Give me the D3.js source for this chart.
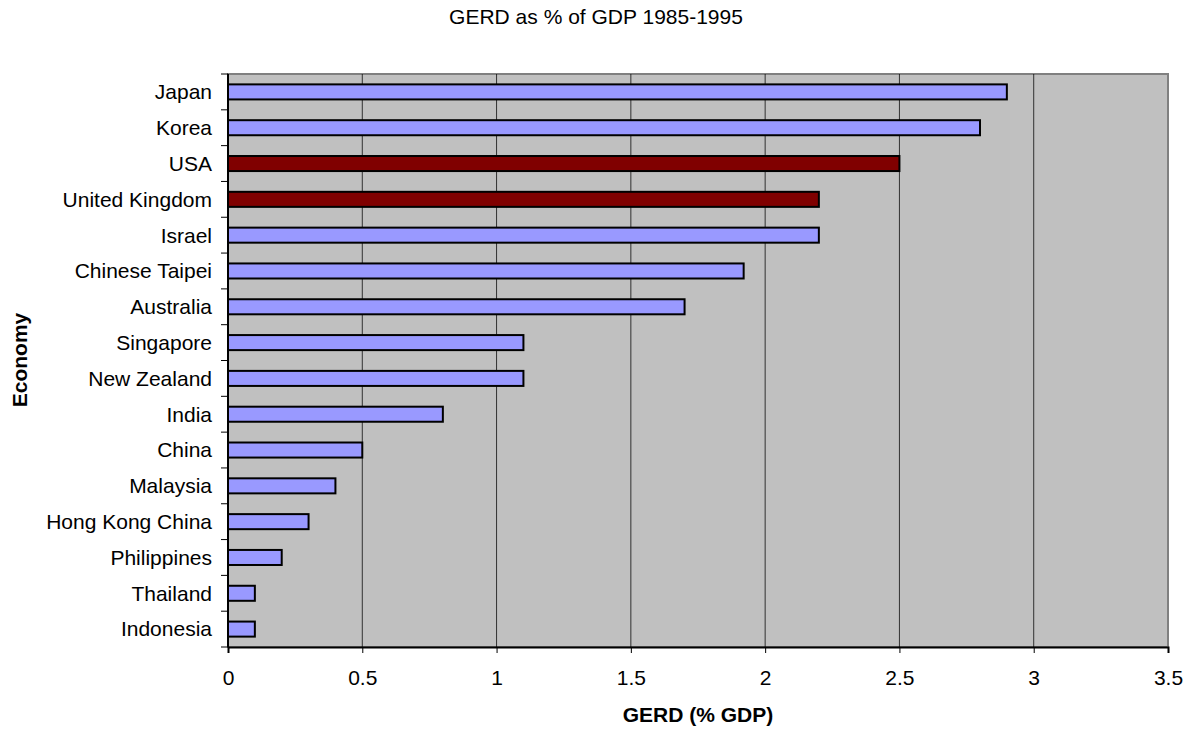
<!DOCTYPE html>
<html>
<head>
<meta charset="utf-8">
<script src="https://cdn.jsdelivr.net/npm/d3@7"></script>
<style>
  body { margin: 0; background: #fff; }
  text { font-family: Arial, "Liberation Sans", sans-serif; }
</style>
</head>
<body>
<script>
// GERD as % of GDP
var economies = ["Japan", "Korea", "USA", "United Kingdom", "Israel", "Chinese Taipei",
  "Australia", "Singapore", "New Zealand", "India", "China", "Malaysia",
  "Hong Kong China", "Philippines", "Thailand", "Indonesia"];
var gerd = [2.9, 2.8, 2.5, 2.2, 2.2, 1.92, 1.7, 1.1, 1.1, 0.8, 0.5, 0.4, 0.3, 0.2, 0.1, 0.1];
var highlighted = ["USA", "United Kingdom"];
var xTicks = [0, 0.5, 1, 1.5, 2, 2.5, 3, 3.5];

var width = 1201, height = 731;
var plot = { left: 228, top: 74, right: 1168, bottom: 647 };
var fontSize = 21;

var data = economies.map(function(d, i) { return { name: d, value: gerd[i] }; });

var svg = d3.select('body').append('svg')
  .attr('width', width)
  .attr('height', height);

var xScale = d3.scaleLinear()
  .domain([0, 3.5])
  .range([plot.left, plot.right]);

var yScale = d3.scaleBand()
  .domain(economies)
  .range([plot.top, plot.bottom])
  .paddingInner(0.58)
  .paddingOuter(0.29);

var yOuter = d3.scaleBand()
  .domain(economies)
  .range([plot.top, plot.bottom]);

// plot background
svg.append('rect')
  .attr('x', plot.left)
  .attr('y', plot.top)
  .attr('width', plot.right - plot.left)
  .attr('height', plot.bottom - plot.top)
  .attr('fill', '#c0c0c0')
  .attr('stroke', '#808080')
  .attr('stroke-width', 2);

// gridlines
svg.append('g').selectAll('line')
  .data(xTicks.slice(1, -1))
  .enter().append('line')
  .attr('x1', function(d) { return xScale(d); })
  .attr('x2', function(d) { return xScale(d); })
  .attr('y1', plot.top)
  .attr('y2', plot.bottom)
  .attr('stroke', '#000')
  .attr('stroke-opacity', 0.75)
  .attr('stroke-width', 1);

// bars
svg.append('g').selectAll('rect')
  .data(data)
  .enter().append('rect')
  .attr('x', xScale(0))
  .attr('y', function(d) { return yScale(d.name); })
  .attr('width', function(d) { return xScale(d.value) - xScale(0); })
  .attr('height', yScale.bandwidth())
  .attr('fill', function(d) { return highlighted.indexOf(d.name) >= 0 ? '#800000' : '#9999ff'; })
  .attr('stroke', '#000')
  .attr('stroke-width', 2);

// x axis
var xAxis = d3.axisBottom(xScale).tickValues(xTicks).tickSize(6)
  .tickFormat(function(d) { return d; });
var xAxisNodes = svg.append('g')
  .attr('transform', 'translate(0,' + plot.bottom + ')')
  .call(xAxis);
xAxisNodes.selectAll('.tick text')
  .attr('y', 38)
  .attr('dy', null)
  .attr('font-size', fontSize)
  .attr('fill', '#000')
  .style('font-family', 'Arial, "Liberation Sans", sans-serif');
styleAxisNodes(xAxisNodes);

// y axis: ticks sit between categories
var yAxisNodes = svg.append('g')
  .attr('transform', 'translate(' + plot.left + ',0)');
yAxisNodes.append('line')
  .attr('x1', 0).attr('x2', 0)
  .attr('y1', plot.top).attr('y2', plot.bottom)
  .attr('stroke', '#000').attr('stroke-width', 2);
yAxisNodes.selectAll('.cat-tick')
  .data(economies.concat(['end']))
  .enter().append('line')
  .attr('class', 'cat-tick')
  .attr('x1', -7).attr('x2', 0)
  .attr('y1', function(d, i) { return plot.top + i * yOuter.step(); })
  .attr('y2', function(d, i) { return plot.top + i * yOuter.step(); })
  .attr('stroke', '#000').attr('stroke-width', 1);
yAxisNodes.selectAll('text')
  .data(economies)
  .enter().append('text')
  .attr('x', -16)
  .attr('y', function(d) { return yOuter(d) + yOuter.bandwidth() / 2; })
  .attr('dy', '0.35em')
  .attr('text-anchor', 'end')
  .attr('font-size', fontSize)
  .text(function(d) { return d; });

// titles
svg.append('text')
  .attr('x', 596).attr('y', 24)
  .attr('text-anchor', 'middle')
  .attr('font-size', fontSize)
  .text('GERD as % of GDP 1985-1995');

svg.append('text')
  .attr('x', 698).attr('y', 722)
  .attr('text-anchor', 'middle')
  .attr('font-size', fontSize)
  .attr('font-weight', 'bold')
  .text('GERD (% GDP)');

svg.append('text')
  .attr('transform', 'translate(27,360) rotate(-90)')
  .attr('text-anchor', 'middle')
  .attr('font-size', fontSize)
  .attr('font-weight', 'bold')
  .text('Economy');

function styleAxisNodes(axisNodes) {
  axisNodes.selectAll('.domain')
    .attr('fill', 'none')
    .attr('stroke-width', 2)
    .attr('stroke', 'black');
  axisNodes.selectAll('.tick line')
    .attr('stroke-width', 1)
    .attr('stroke', 'black');
}
</script>
</body>
</html>
